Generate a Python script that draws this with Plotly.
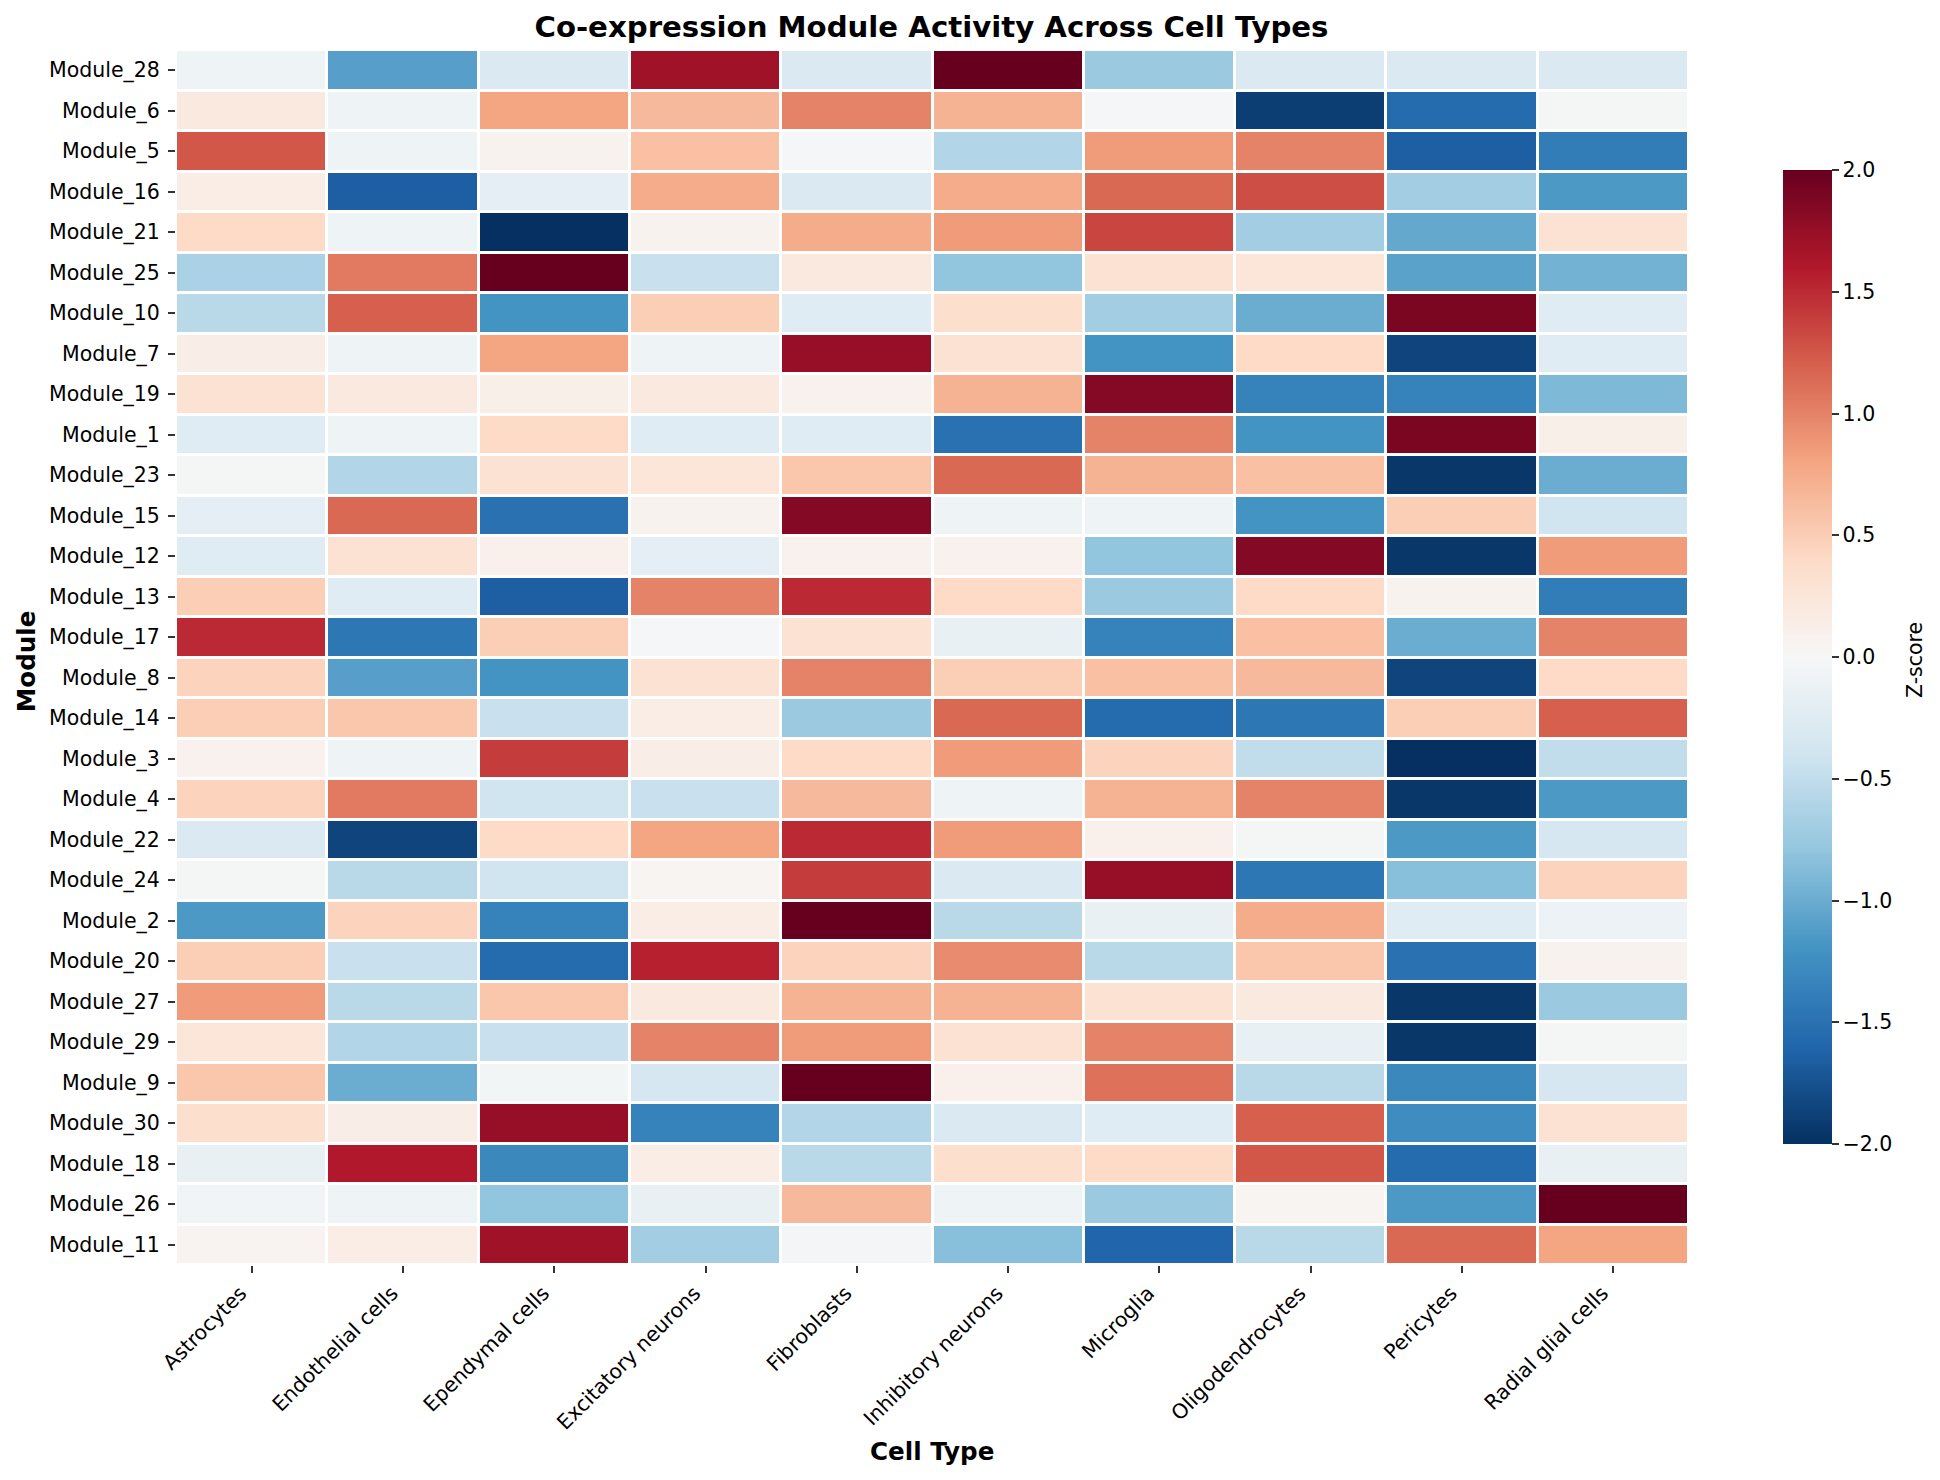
import plotly.graph_objects as go

cell_types = ["Astrocytes", "Endothelial cells", "Ependymal cells", "Excitatory neurons", "Fibroblasts",
              "Inhibitory neurons", "Microglia", "Oligodendrocytes", "Pericytes", "Radial glial cells"]

modules = ["Module_28", "Module_6", "Module_5", "Module_16", "Module_21", "Module_25", "Module_10", "Module_7",
           "Module_19", "Module_1", "Module_23", "Module_15", "Module_12", "Module_13", "Module_17", "Module_8",
           "Module_14", "Module_3", "Module_4", "Module_22", "Module_24", "Module_2", "Module_20", "Module_27",
           "Module_29", "Module_9", "Module_30", "Module_18", "Module_26", "Module_11"]

# z-scores, one row per module (top to bottom)
m28 = [-0.1, -1.1, -0.3, 1.7, -0.3, 2.0, -0.75, -0.3, -0.3, -0.3]
m6 = [0.2, -0.1, 0.8, 0.65, 1.0, 0.7, -0.02, -1.9, -1.55, -0.03]
m5 = [1.25, -0.1, 0.07, 0.6, -0.02, -0.6, 0.85, 1.0, -1.65, -1.4]
m16 = [0.15, -1.65, -0.2, 0.75, -0.3, 0.75, 1.15, 1.3, -0.7, -1.15]
m21 = [0.4, -0.1, -2.0, 0.07, 0.75, 0.85, 1.35, -0.7, -1.03, 0.3]
m25 = [-0.65, 1.05, 2.0, -0.45, 0.2, -0.8, 0.3, 0.25, -1.08, -0.95]
m10 = [-0.55, 1.2, -1.2, 0.5, -0.25, 0.35, -0.7, -1.0, 1.9, -0.25]
m7 = [0.13, -0.1, 0.8, -0.1, 1.75, 0.3, -1.2, 0.4, -1.85, -0.25]
m19 = [0.3, 0.2, 0.12, 0.2, 0.08, 0.7, 1.85, -1.35, -1.35, -0.9]
m1 = [-0.25, -0.1, 0.4, -0.25, -0.25, -1.5, 1.0, -1.2, 1.9, 0.12]
m23 = [-0.03, -0.6, 0.3, 0.25, 0.55, 1.15, 0.7, 0.6, -1.95, -1.0]
m15 = [-0.2, 1.15, -1.5, 0.07, 1.85, -0.1, -0.1, -1.2, 0.5, -0.4]
m12 = [-0.25, 0.3, 0.1, -0.2, 0.08, 0.08, -0.8, 1.85, -1.95, 0.85]
m13 = [0.5, -0.25, -1.65, 1.0, 1.5, 0.4, -0.75, 0.4, 0.07, -1.4]
m17 = [1.5, -1.45, 0.5, -0.02, 0.3, -0.15, -1.35, 0.6, -1.0, 1.0]
m8 = [0.45, -1.1, -1.2, 0.3, 1.0, 0.5, 0.6, 0.65, -1.85, 0.4]
m14 = [0.5, 0.55, -0.45, 0.15, -0.75, 1.15, -1.55, -1.45, 0.5, 1.2]
m3 = [0.08, -0.1, 1.4, 0.13, 0.4, 0.85, 0.45, -0.5, -2.0, -0.5]
m4 = [0.45, 1.05, -0.4, -0.45, 0.65, -0.1, 0.7, 1.0, -1.95, -1.15]
m22 = [-0.3, -1.85, 0.4, 0.8, 1.5, 0.85, 0.1, -0.03, -1.15, -0.35]
m24 = [-0.03, -0.55, -0.4, 0.05, 1.4, -0.3, 1.75, -1.45, -0.85, 0.45]
m2 = [-1.15, 0.45, -1.35, 0.15, 2.0, -0.55, -0.15, 0.75, -0.25, -0.12]
m20 = [0.5, -0.45, -1.55, 1.55, 0.45, 0.95, -0.55, 0.55, -1.5, 0.07]
m27 = [0.85, -0.55, 0.55, 0.2, 0.7, 0.7, 0.3, 0.2, -1.95, -0.75]
m29 = [0.25, -0.6, -0.45, 1.0, 0.85, 0.3, 1.0, -0.15, -1.95, -0.03]
m9 = [0.55, -1.0, -0.05, -0.35, 2.0, 0.1, 1.1, -0.55, -1.3, -0.35]
m30 = [0.35, 0.13, 1.75, -1.35, -0.6, -0.3, -0.25, 1.2, -1.25, 0.3]
m18 = [-0.15, 1.6, -1.3, 0.15, -0.55, 0.35, 0.4, 1.25, -1.55, -0.15]
m26 = [-0.07, -0.1, -0.8, -0.15, 0.65, -0.1, -0.75, 0.05, -1.15, 2.0]
m11 = [0.06, 0.15, 1.7, -0.7, -0.04, -0.85, -1.6, -0.55, 1.15, 0.8]

z_rows = [m28, m6, m5, m16, m21, m25, m10, m7, m19, m1, m23, m15, m12, m13, m17,
          m8, m14, m3, m4, m22, m24, m2, m20, m27, m29, m9, m30, m18, m26, m11]

rdbu_r = ["#053061", "#2166ac", "#4393c3", "#92c5de", "#d1e5f0", "#f7f7f7",
          "#fddbc7", "#f4a582", "#d6604d", "#b2182b", "#67001f"]
colorscale = [[i / 10, c] for i, c in enumerate(rdbu_r)]

FONT = "DejaVu Sans"
TICK_SIZE = 20.5
LABEL_SIZE = 24.6

fig = go.Figure(go.Heatmap(
    z=z_rows,
    x=cell_types,
    y=modules,
    zmin=-2,
    zmax=2,
    colorscale=colorscale,
    xgap=3,
    ygap=3,
    colorbar=dict(
        thickness=49,
        thicknessmode="pixels",
        len=974,
        lenmode="pixels",
        x=1.0618,
        xanchor="left",
        y=0.5004,
        yanchor="middle",
        xpad=0,
        ypad=0,
        outlinewidth=0,
        tick0=-2,
        dtick=0.5,
        tickformat=".1f",
        ticks="outside",
        ticklen=7,
        tickwidth=2,
        tickcolor="#333333",
        tickfont=dict(size=TICK_SIZE, family=FONT, color="black"),
    ),
))


def side_label(text, x, y, angle):
    # axis and colorbar titles sit at fixed spots, outside the plot area
    bold = text != "Z-score"
    return dict(
        text=text,
        textangle=angle,
        font=dict(size=LABEL_SIZE if bold else TICK_SIZE, family=FONT, color="black",
                  weight="bold" if bold else "normal"),
        xref="paper",
        yref="paper",
        x=x,
        y=y,
        xanchor="center",
        yanchor="middle",
        showarrow=False,
    )


fig.update_layout(
    width=1924,
    height=1464,
    autosize=False,
    margin=dict(l=167.5, r=242.5, t=41.5, b=206.5),
    paper_bgcolor="white",
    plot_bgcolor="white",
    font=dict(family=FONT, color="black"),
    title=dict(
        text="Co-expression Module Activity Across Cell Types",
        font=dict(size=29.2, family=FONT, color="black", weight="bold"),
        x=0.48,
        xanchor="center",
        y=0.987,
        yanchor="middle",
    ),
    xaxis=dict(
        automargin=False,
        tickangle=-45,
        ticks="outside",
        ticklen=7,
        tickwidth=2,
        tickcolor="#333333",
        tickfont=dict(size=TICK_SIZE, family=FONT, color="black"),
        ticklabelshift=-11,
        showgrid=False,
        zeroline=False,
        showline=False,
    ),
    yaxis=dict(
        automargin=False,
        autorange="reversed",
        ticks="outside",
        ticklen=7,
        tickwidth=2,
        tickcolor="#333333",
        tickfont=dict(size=TICK_SIZE, family=FONT, color="black"),
        ticklabelstandoff=4,
        showgrid=False,
        zeroline=False,
        showline=False,
    ),
    annotations=[
        side_label("Cell Type", 0.4998, -0.1537, 0),
        side_label("Module", -0.0987, 0.4967, -90),
        side_label("Z-score", 1.1489, 0.4982, -90),
    ],
)

fig.write_html("out.html")
